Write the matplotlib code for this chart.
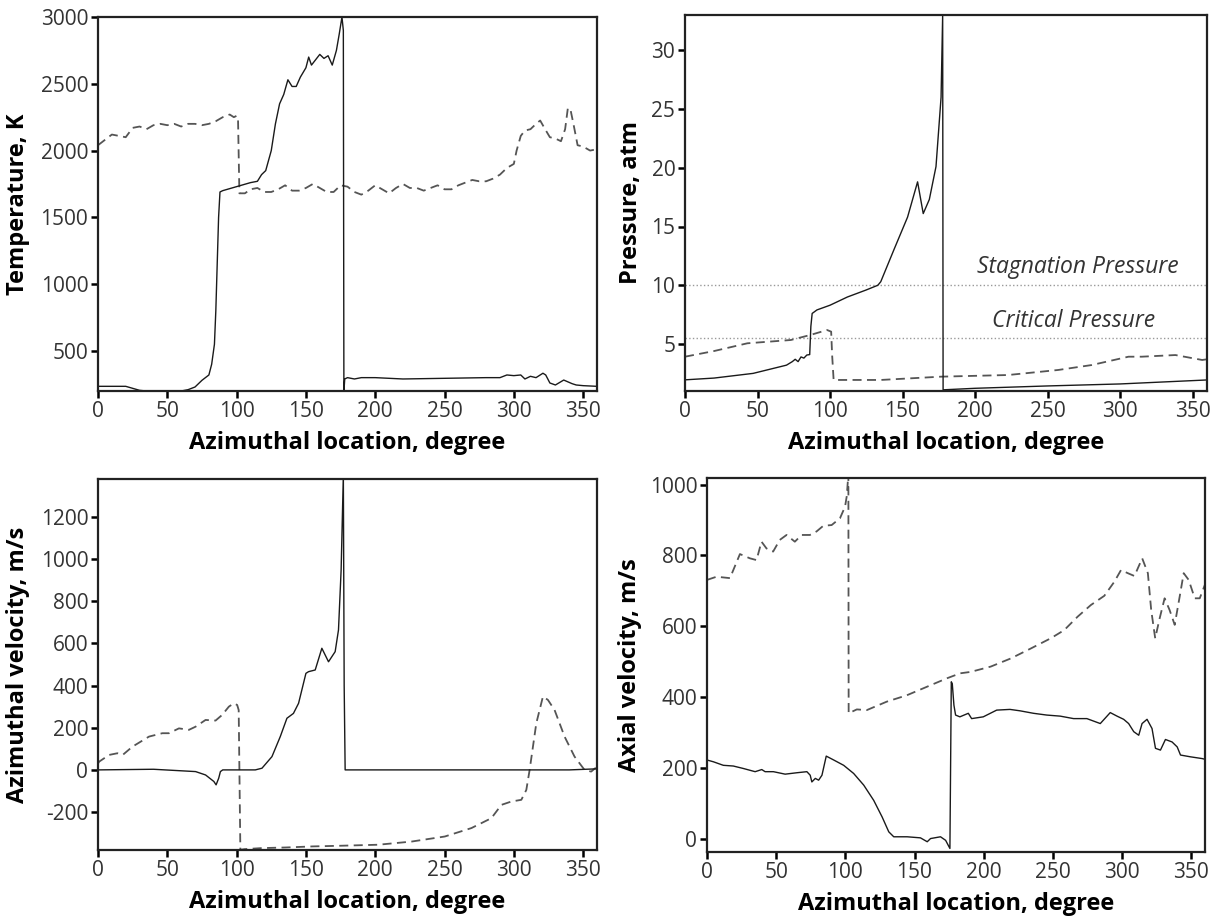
import matplotlib
matplotlib.use("Agg")
import matplotlib.pyplot as plt

plt.rcParams['font.family'] = ['Open Sans', 'DejaVu Sans']
plt.rcParams['axes.unicode_minus'] = False

# ---------------- Data ----------------
# Panel 1: Temperature
temp_solid_x = [0, 20, 25, 30, 35, 60, 65, 70, 75, 80, 82, 84, 85, 86, 87, 88, 90, 100, 110, 115, 118, 121, 125,
                128, 131, 134, 137, 140, 143, 146, 150, 152, 154, 157, 160, 163, 166, 169, 172, 174, 176, 177,
                177.4, 178, 180, 185, 190, 200, 220, 250, 280, 290, 295, 300, 305, 308, 312, 316, 321, 323, 326,
                330, 336, 342, 345, 350, 360]
temp_solid_y = [235, 235, 220, 205, 200, 200, 210, 230, 280, 320, 400, 550, 800, 1150, 1500, 1690, 1700, 1730,
                1760, 1770, 1820, 1850, 2000, 2200, 2350, 2420, 2530, 2480, 2480, 2550, 2620, 2700, 2640, 2680,
                2720, 2690, 2710, 2640, 2750, 2870, 3000, 2900, 195, 290, 300, 290, 300, 300, 290, 295, 300, 300,
                320, 315, 320, 290, 310, 300, 333, 320, 260, 245, 282, 255, 245, 240, 235]
temp_dash_x = [0, 5, 10, 15, 20, 25, 30, 35, 40, 45, 50, 55, 60, 65, 70, 75, 80, 85, 90, 95, 98, 100, 101,
               102, 106, 110, 115, 120, 125, 130, 135, 140, 145, 150, 155, 160, 165, 170, 175, 180, 185, 190,
               195, 200, 205, 210, 215, 220, 225, 230, 235, 240, 245, 250, 255, 260, 265, 270, 275, 280, 285,
               290, 295, 300, 302, 305, 308, 312, 316, 319, 322, 326, 330, 334, 337, 339, 341, 343, 346, 350,
               355, 360]
temp_dash_y = [2040, 2080, 2120, 2110, 2100, 2170, 2180, 2160, 2190, 2200, 2190, 2200, 2180, 2200, 2200, 2190,
               2200, 2220, 2250, 2270, 2250, 2260, 2250, 1680, 1680, 1710, 1720, 1690, 1690, 1710, 1740, 1700,
               1700, 1720, 1750, 1720, 1690, 1690, 1740, 1730, 1690, 1670, 1700, 1740, 1710, 1680, 1720, 1750,
               1720, 1720, 1700, 1720, 1740, 1710, 1710, 1740, 1760, 1780, 1770, 1770, 1790, 1820, 1870, 1900,
               2000, 2110, 2150, 2160, 2200, 2225, 2170, 2100, 2090, 2070, 2160, 2320, 2300, 2200, 2040, 2030,
               2000, 2010]

# Panel 2: Pressure
pres_solid_x = [0, 20, 47, 70, 74, 76, 78, 80, 82, 84, 86, 86.8, 87.7, 91, 100, 112, 125, 133, 135, 144, 153.5,
                160.4, 164.3, 168.5, 173.1, 176.6, 177.7, 178, 200, 250, 300, 360]
pres_solid_y = [1.95, 2.1, 2.5, 3.2, 3.5, 3.7, 3.5, 3.9, 3.8, 4.06, 4.1, 6.5, 7.6, 7.9, 8.3, 9.0, 9.6, 10.0,
                10.3, 13.0, 15.8, 18.8, 16.1, 17.3, 20.1, 26.0, 33.0, 1.1, 1.23, 1.43, 1.6, 1.94]
pres_dash_x = [0, 20, 43, 73, 86.5, 98, 100.8, 101.5, 102.5, 135, 176.6, 222.8, 257.4, 280.5, 305.9, 315,
               338.2, 356.7, 360]
pres_dash_y = [3.92, 4.4, 5.06, 5.34, 5.77, 6.19, 6.05, 4.0, 1.94, 1.94, 2.22, 2.36, 2.79, 3.21, 3.92, 3.92,
               4.06, 3.64, 3.7]
stagnation_pressure = 10.0
critical_pressure = 5.5

# Panel 3: Azimuthal velocity
azv_solid_x = [0, 40, 70.4, 77.6, 83.6, 85.2, 87.1, 88.3, 90, 113.5, 118.3, 125.5, 131.5, 136.3, 141, 144.7,
               150, 151.9, 156.7, 161.5, 166.3, 171.1, 173.5, 175.4, 177, 177.6, 178.3, 200, 250, 300, 340, 360]
azv_solid_y = [0, 3, -8, -24, -55, -71, -39, -8, 0, 0, 8, 63, 158, 245, 268, 316, 458, 466, 474, 577, 513, 561,
               664, 948, 1400, 400, 0, 0, 0, 0, 0, 5]
azv_dash_x = [0, 0.8, 8, 14, 18, 24.8, 36.8, 46.4, 51.2, 58.4, 65.6, 70.4, 77.6, 84.8, 89.6, 94.4, 98, 100.4,
              101.5, 102.7, 105.6, 118, 135.6, 154.8, 174, 202.2, 226.2, 250.2, 269.4, 283.8, 291, 298.2, 305.4,
              309, 311.4, 316.2, 321, 324.6, 329.4, 336.6, 343.8, 351, 355.8, 358.7, 360]
azv_dash_y = [30, 39, 71, 79, 72, 110, 158, 174, 174, 197, 190, 205, 237, 234, 261, 300, 316, 308, 284, -379,
              -376, -371, -368, -363, -360, -355, -340, -316, -276, -229, -166, -150, -142, -95, 0, 221, 348,
              332, 284, 158, 63, 0, -8, 8, 5]

# Panel 4: Axial velocity
axv_solid_x = [0, 4.6, 11.8, 19, 26.3, 34.8, 39.6, 42, 48, 56.5, 65, 72.2, 74.6, 75.8, 78.3, 80.7, 83.1, 86.2,
               91.6, 98.8, 106, 113.3, 120.5, 126.6, 131.4, 135, 144.7, 154.3, 159.2, 161.6, 168.8, 172.5,
               175.6, 176.6, 177.3, 178.5, 179.7, 182.8, 188.9, 191.3, 199.7, 209.4, 219, 226.3, 236, 245.6,
               255.3, 265, 274.6, 284.3, 291.5, 296.4, 301.2, 304.8, 308.5, 312.1, 314.5, 318.1, 321.7, 324.2,
               327.8, 331.4, 336.2, 339.9, 342.3, 349.5, 358, 360]
axv_solid_y = [222, 217, 207, 205, 198, 189, 195, 189, 189, 182, 186, 189, 179, 160, 170, 165, 179, 233, 222,
               207, 184, 151, 108, 61, 19, 5, 5, 2, -9, 0, 5, -5, -28, 443, 438, 377, 349, 344, 354, 339, 344,
               363, 365, 361, 354, 349, 346, 339, 339, 325, 356, 346, 337, 325, 302, 292, 325, 337, 311, 255,
               250, 280, 273, 259, 236, 231, 226, 224]
axv_dash_x = [0, 6.9, 16.6, 23.8, 31, 35.8, 39.4, 43, 47.8, 52.6, 57.5, 63.5, 68.4, 74.4, 79.2, 84.1, 90.1,
              96.1, 99.8, 101, 102.2, 102.4, 108.3, 115.5, 130, 144.5, 159, 173.5, 183, 190.6, 205.1, 219.6,
              234, 248.5, 258.2, 267.9, 277.5, 287.2, 294.5, 299.3, 304.2, 309, 314.6, 318.7, 321.1, 324,
              327.2, 330.8, 334.4, 338.1, 341.7, 344.6, 348.2, 352.6, 356.2, 360]
axv_dash_y = [731, 740, 736, 804, 792, 787, 839, 820, 811, 844, 858, 839, 858, 858, 868, 884, 886, 905, 938,
              967, 1030, 354, 365, 363, 387, 405, 429, 453, 467, 471, 486, 509, 537, 566, 589, 627, 660, 686,
              726, 759, 750, 742, 792, 750, 646, 566, 622, 679, 646, 604, 684, 750, 731, 679, 679, 718]

xticks = [0, 50, 100, 150, 200, 250, 300, 350]
xlabel = "Azimuthal location, degree"

# ---------------- Figure ----------------
W, H = 1217, 919
fig = plt.figure(figsize=(W / 100, H / 100), dpi=100)

def rect(l, r, t, b):
    return [l / W, (H - b) / H, (r - l) / W, (b - t) / H]

ax1 = fig.add_axes(rect(98, 597, 17, 391))
ax2 = fig.add_axes(rect(685, 1207, 15, 391))
ax3 = fig.add_axes(rect(98, 597, 479, 850))
ax4 = fig.add_axes(rect(707, 1205, 478, 852))

solid_kw = dict(color='#1a1a1a', lw=1.0)
dash_kw = dict(color='#555555', lw=1.3, linestyle=(0, (5, 3)))

def style(ax, ylabel, ylim, yticks, ylab_x):
    ax.set_xlim(0, 360)
    ax.set_ylim(*ylim)
    ax.set_xticks(xticks)
    ax.set_yticks(yticks)
    ax.tick_params(direction='out', length=5, width=1.8, labelsize=15, labelcolor='#333333', pad=2)
    for s in ax.spines.values():
        s.set_linewidth(1.6)
        s.set_color('#222222')
    ax.set_xlabel(xlabel, fontsize=17, fontweight='bold', labelpad=7)
    ax.set_ylabel(ylabel, fontsize=17, fontweight='bold')
    ax.yaxis.set_label_coords(ylab_x, 0.5)

ax1.plot(temp_dash_x, temp_dash_y, **dash_kw)
ax1.plot(temp_solid_x, temp_solid_y, **solid_kw)
style(ax1, "Temperature, K", (200, 3000), [500, 1000, 1500, 2000, 2500, 3000], -0.136)

ax2.axhline(stagnation_pressure, color='#999999', lw=1.0, linestyle=':')
ax2.axhline(critical_pressure, color='#999999', lw=1.0, linestyle=':')
ax2.plot(pres_dash_x, pres_dash_y, **dash_kw)
ax2.plot(pres_solid_x, pres_solid_y, **solid_kw)
ax2.text(271, stagnation_pressure + 0.5, "Stagnation Pressure", style='italic', fontsize=16.5,
         color='#333333', ha='center', va='bottom')
ax2.text(268, critical_pressure + 0.45, "Critical Pressure", style='italic', fontsize=16.5,
         color='#333333', ha='center', va='bottom')
style(ax2, "Pressure, atm", (1, 33), [5, 10, 15, 20, 25, 30], -0.08)

ax3.plot(azv_dash_x, azv_dash_y, **dash_kw)
ax3.plot(azv_solid_x, azv_solid_y, **solid_kw)
style(ax3, "Azimuthal velocity, m/s", (-380, 1380), [-200, 0, 200, 400, 600, 800, 1000, 1200], -0.137)

ax4.plot(axv_dash_x, axv_dash_y, **dash_kw)
ax4.plot(axv_solid_x, axv_solid_y, **solid_kw)
style(ax4, "Axial velocity, m/s", (-38, 1019), [0, 200, 400, 600, 800, 1000], -0.131)

fig.savefig("out.png", dpi=100)
